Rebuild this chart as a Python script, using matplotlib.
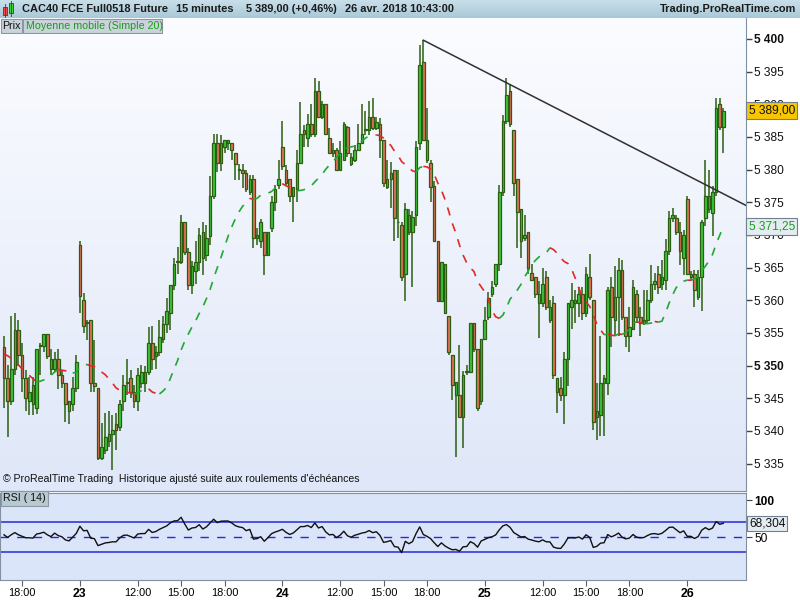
import numpy as np
import pandas as pd
import matplotlib
matplotlib.use("Agg")
import matplotlib.pyplot as plt
from matplotlib.colors import LinearSegmentedColormap
from matplotlib.patches import Rectangle
import matplotlib.transforms as mtransforms

plt.rcParams["font.family"] = ["Liberation Sans", "DejaVu Sans"]

# 15-minute candles, 20 Apr 16:45 -> 26 Apr 10:30
opens = [
    5352.9, 5348.1, 5344.5, 5349.4, 5355.5, 5351.6, 5348.1, 5344.5, 5344.1, 5343.5,
    5353.0, 5353.0, 5354.9, 5351.0, 5349.4, 5351.0, 5348.6, 5347.4, 5344.5, 5344.1,
    5346.5, 5368.5, 5360.0, 5356.5, 5357.0, 5347.4, 5346.5, 5335.9, 5337.1, 5338.5,
    5339.5, 5341.0, 5340.6, 5344.5, 5347.4, 5348.1, 5346.0, 5344.5, 5347.4, 5347.4,
    5349.0, 5353.5, 5351.5, 5352.0, 5354.0, 5356.4, 5358.0, 5362.4, 5365.9, 5365.9,
    5371.9, 5367.4, 5362.4, 5364.4, 5365.9, 5370.5, 5367.0, 5369.9, 5375.9, 5384.1,
    5381.0, 5383.4, 5384.0, 5384.0, 5382.5, 5379.9, 5379.9, 5379.4, 5376.5, 5378.5,
    5369.5, 5369.0, 5370.4, 5367.0, 5371.0, 5375.0, 5377.6, 5383.4, 5379.9, 5378.5,
    5375.9, 5377.0, 5381.0, 5386.0, 5384.9, 5386.9, 5385.4, 5392.0, 5388.0, 5390.0,
    5384.9, 5382.5, 5383.0, 5380.0, 5381.5, 5386.5, 5381.9, 5381.5, 5383.0, 5384.1,
    5386.1, 5386.1, 5388.0, 5386.4, 5386.9, 5384.5, 5377.4, 5378.5, 5379.9, 5371.9,
    5371.5, 5364.0, 5373.1, 5370.4, 5373.1, 5384.0, 5396.5, 5384.5, 5381.0, 5377.5,
    5369.0, 5359.9, 5365.5, 5357.6, 5351.6, 5345.5, 5345.5, 5342.1, 5349.0, 5349.0,
    5356.5, 5352.5, 5344.5, 5354.1, 5357.5, 5360.9, 5362.5, 5365.5, 5376.5, 5387.4,
    5392.0, 5386.0, 5378.5, 5374.0, 5369.5, 5370.4, 5364.1, 5363.5, 5360.9, 5359.6,
    5363.5, 5357.0, 5359.6, 5348.1, 5346.5, 5345.5, 5351.0, 5359.0, 5360.0, 5359.6,
    5361.0, 5358.0, 5363.5, 5360.0, 5342.1, 5342.5, 5347.4, 5347.4, 5362.0, 5357.0,
    5360.5, 5364.6, 5357.5, 5354.5, 5355.6, 5361.0, 5357.5, 5356.5, 5357.0, 5360.0,
    5362.5, 5364.0, 5362.5, 5363.1, 5367.5, 5372.6, 5372.6, 5370.4, 5366.4, 5375.5,
    5363.5, 5364.0, 5360.5, 5363.5, 5372.6, 5376.0, 5373.4, 5376.5, 5390.0, 5386.5,
]
highs = [
    5354.5, 5350.1, 5357.6, 5358.0, 5357.0, 5353.5, 5349.3, 5348.3, 5348.3, 5352.5,
    5353.5, 5354.9, 5354.9, 5352.5, 5352.0, 5352.5, 5349.3, 5347.4, 5344.5, 5348.3,
    5351.6, 5369.0, 5361.1, 5357.0, 5357.0, 5353.9, 5346.5, 5341.2, 5342.7, 5343.0,
    5342.4, 5342.7, 5344.7, 5348.6, 5351.0, 5349.3, 5347.0, 5349.6, 5350.1, 5350.0,
    5355.9, 5356.0, 5353.0, 5357.0, 5357.6, 5360.3, 5362.4, 5366.4, 5368.2, 5373.0,
    5372.0, 5368.0, 5366.0, 5369.0, 5371.0, 5372.0, 5371.5, 5379.0, 5385.4, 5385.4,
    5385.3, 5384.5, 5384.5, 5384.1, 5382.5, 5380.9, 5380.9, 5380.0, 5379.2, 5379.2,
    5371.0, 5372.5, 5370.4, 5370.4, 5375.9, 5377.6, 5381.5, 5387.5, 5380.7, 5378.5,
    5377.4, 5383.0, 5390.4, 5386.8, 5388.5, 5390.0, 5394.0, 5393.5, 5390.5, 5390.0,
    5386.3, 5384.0, 5383.3, 5384.3, 5387.3, 5386.6, 5382.5, 5383.8, 5386.9, 5390.0,
    5388.9, 5390.5, 5391.0, 5388.0, 5387.9, 5384.5, 5381.5, 5381.2, 5379.9, 5379.9,
    5372.0, 5374.9, 5374.0, 5373.6, 5384.4, 5399.1, 5399.8, 5389.4, 5381.5, 5378.2,
    5369.0, 5365.9, 5365.5, 5357.6, 5351.6, 5347.5, 5353.2, 5349.1, 5350.1, 5356.5,
    5356.5, 5352.5, 5354.1, 5358.9, 5361.3, 5362.9, 5365.5, 5377.6, 5388.3, 5394.0,
    5393.0, 5386.0, 5378.5, 5374.0, 5373.1, 5370.4, 5365.5, 5363.5, 5362.9, 5364.9,
    5364.5, 5360.0, 5360.6, 5348.1, 5348.3, 5352.0, 5359.6, 5362.6, 5361.6, 5362.1,
    5362.1, 5365.1, 5367.1, 5360.0, 5347.3, 5354.5, 5348.6, 5362.1, 5363.5, 5365.2,
    5366.4, 5366.2, 5357.5, 5359.0, 5363.1, 5361.6, 5359.0, 5361.6, 5361.6, 5365.4,
    5364.2, 5365.2, 5366.1, 5369.4, 5373.6, 5374.1, 5373.1, 5371.9, 5370.8, 5376.0,
    5364.5, 5364.7, 5364.7, 5372.3, 5381.5, 5380.0, 5377.5, 5390.9, 5390.9, 5389.4,
]
lows = [
    5343.5, 5339.0, 5344.0, 5348.5, 5350.0, 5346.0, 5343.0, 5342.4, 5342.4, 5342.6,
    5348.6, 5352.0, 5351.0, 5348.5, 5349.0, 5346.4, 5346.5, 5341.4, 5341.0, 5343.0,
    5346.0, 5358.0, 5355.0, 5353.9, 5346.0, 5346.0, 5335.5, 5335.5, 5336.5, 5337.5,
    5334.0, 5337.1, 5340.0, 5343.0, 5345.5, 5345.0, 5343.5, 5343.0, 5346.5, 5346.0,
    5348.5, 5349.3, 5349.5, 5351.5, 5353.5, 5355.0, 5355.4, 5361.5, 5364.0, 5365.5,
    5367.0, 5361.5, 5361.0, 5362.5, 5364.5, 5363.8, 5366.0, 5368.5, 5375.5, 5379.7,
    5379.8, 5382.5, 5383.0, 5381.5, 5378.4, 5378.4, 5377.2, 5376.5, 5376.1, 5368.0,
    5368.5, 5368.0, 5363.9, 5367.0, 5370.5, 5373.6, 5377.1, 5380.0, 5377.6, 5375.1,
    5372.0, 5375.1, 5381.0, 5383.4, 5383.4, 5385.0, 5385.0, 5388.0, 5387.8, 5385.3,
    5382.5, 5382.0, 5379.9, 5379.8, 5381.5, 5382.0, 5380.5, 5381.2, 5383.0, 5384.1,
    5385.3, 5385.3, 5386.0, 5386.0, 5381.7, 5377.4, 5377.0, 5374.1, 5369.0, 5369.5,
    5362.9, 5359.9, 5370.0, 5362.0, 5371.4, 5383.0, 5384.4, 5381.0, 5375.0, 5369.0,
    5359.8, 5359.8, 5358.0, 5351.6, 5344.8, 5336.0, 5342.1, 5337.4, 5348.5, 5348.9,
    5352.0, 5343.1, 5344.0, 5354.1, 5357.0, 5360.5, 5362.0, 5364.4, 5375.9, 5387.0,
    5386.5, 5375.9, 5368.0, 5366.4, 5369.0, 5364.0, 5363.0, 5360.3, 5354.2, 5359.0,
    5358.5, 5356.5, 5347.9, 5342.7, 5344.5, 5341.1, 5346.9, 5355.6, 5356.5, 5357.5,
    5356.9, 5357.5, 5360.0, 5340.2, 5338.6, 5339.2, 5339.2, 5345.5, 5352.9, 5354.5,
    5354.5, 5357.0, 5352.9, 5352.0, 5355.5, 5356.5, 5354.6, 5356.2, 5356.5, 5359.5,
    5361.6, 5361.0, 5361.6, 5361.6, 5367.0, 5372.0, 5370.0, 5365.4, 5363.9, 5363.9,
    5363.0, 5359.0, 5360.0, 5358.4, 5371.4, 5373.4, 5369.9, 5375.9, 5386.0, 5382.5,
]
closes = [
    5348.1, 5344.5, 5349.4, 5355.5, 5351.6, 5348.1, 5345.0, 5346.0, 5347.0, 5352.5,
    5353.0, 5354.9, 5351.5, 5349.4, 5351.0, 5348.6, 5347.4, 5344.1, 5343.0, 5346.5,
    5350.5, 5360.6, 5356.0, 5356.5, 5347.4, 5346.9, 5335.9, 5337.5, 5339.0, 5339.5,
    5340.2, 5340.2, 5344.1, 5347.0, 5347.4, 5346.0, 5344.5, 5348.5, 5349.0, 5349.0,
    5353.5, 5351.0, 5352.0, 5354.4, 5356.4, 5358.4, 5362.4, 5365.5, 5365.9, 5372.0,
    5367.4, 5362.4, 5365.2, 5365.9, 5370.0, 5366.4, 5369.5, 5376.0, 5384.1, 5381.0,
    5384.1, 5384.5, 5384.5, 5383.0, 5380.9, 5379.9, 5379.4, 5377.0, 5378.5, 5369.5,
    5370.0, 5371.9, 5367.0, 5370.4, 5375.0, 5377.0, 5378.5, 5380.5, 5377.9, 5375.9,
    5377.4, 5381.0, 5385.4, 5385.4, 5386.9, 5385.4, 5392.0, 5388.0, 5390.0, 5385.4,
    5382.5, 5383.0, 5379.9, 5382.5, 5386.9, 5382.5, 5380.9, 5383.0, 5384.1, 5385.4,
    5386.1, 5388.0, 5386.4, 5387.3, 5384.5, 5377.9, 5378.5, 5379.4, 5372.6, 5371.9,
    5363.5, 5374.0, 5370.4, 5372.7, 5383.5, 5396.0, 5384.5, 5381.5, 5377.4, 5369.0,
    5359.9, 5365.9, 5358.0, 5352.0, 5347.0, 5347.5, 5342.1, 5348.6, 5349.0, 5356.5,
    5352.5, 5343.5, 5354.1, 5357.0, 5360.4, 5362.0, 5365.5, 5376.5, 5387.4, 5391.4,
    5386.9, 5377.9, 5373.5, 5369.1, 5370.0, 5364.9, 5363.1, 5360.9, 5359.6, 5362.5,
    5359.0, 5358.9, 5348.6, 5346.0, 5345.5, 5351.0, 5359.6, 5360.0, 5359.6, 5361.0,
    5358.0, 5364.0, 5360.5, 5341.4, 5343.0, 5347.4, 5348.1, 5361.6, 5357.5, 5360.5,
    5364.6, 5357.5, 5354.5, 5355.9, 5362.0, 5357.5, 5356.5, 5357.0, 5360.0, 5362.5,
    5363.0, 5362.0, 5363.5, 5367.5, 5372.6, 5373.1, 5370.4, 5367.5, 5370.0, 5364.0,
    5364.0, 5361.5, 5363.5, 5371.9, 5376.0, 5373.9, 5376.5, 5389.4, 5386.5, 5389.0,
]
# SMA(20) for the first 19 bars (history before the window)
sma_lead = [5351.8, 5351.5, 5351.1, 5350.6, 5350.1, 5349.5, 5349.0, 5348.5, 5348.0, 5347.5,
            5347.6, 5347.8, 5348.1, 5348.5, 5349.0, 5349.4, 5349.3, 5349.2, 5349.0]
# RSI(14) for the first 14 bars
rsi_lead = [53, 49.5, 53, 56, 53, 51, 49, 49, 48.5, 54, 55, 56.5, 53, 50.5]

tick_pos = [5, 21, 37, 49, 61, 77, 93, 105, 117, 133, 149, 161, 173, 189]
tick_labels = ["18:00", "23", "12:00", "15:00", "18:00", "24", "12:00", "15:00",
               "18:00", "25", "12:00", "15:00", "18:00", "26"]
day_labels = {"23", "24", "25", "26"}

last_price_label = "5 389,00"
sma_label = "5 371,25"
rsi_value, rsi_label = 68.304, "68,304"

W, H = 800, 600
FS = 7.7
CANDLE_UP = "#3cc83c"
CANDLE_DOWN = "#e8705a"
CANDLE_EDGE = "#2b5e10"
SMA_UP = "#20a830"
SMA_DOWN = "#e02828"


def box(x0, y0, x1, y1):
    """pixel box (from top-left) -> figure fraction rect"""
    return [x0 / W, 1 - y1 / H, (x1 - x0) / W, (y1 - y0) / H]


def gradient(ax, top, bottom):
    cmap = LinearSegmentedColormap.from_list("bg", [bottom, top])
    ax.imshow(np.linspace(0, 1, 256).reshape(-1, 1), cmap=cmap, origin="lower",
              extent=[0, 1, 0, 1], transform=ax.transAxes, aspect="auto", zorder=0)


def thousands(v):
    return f"{v:,.0f}".replace(",", " ")


o = np.array(opens)
h = np.array(highs)
l = np.array(lows)
c = np.array(closes)
idx = np.arange(len(c))

sma = pd.Series(c).rolling(20).mean().to_numpy()
sma[:len(sma_lead)] = sma_lead

# Wilder RSI seeded on the first 14 changes
delta = np.diff(c)
gain = np.clip(delta, 0, None)
loss = np.clip(-delta, 0, None)
rsi = np.full(len(c), np.nan)
rsi[:len(rsi_lead)] = rsi_lead
ag, al = gain[:14].mean(), loss[:14].mean()
for k in range(14, len(c)):
    ag = (ag * 13 + gain[k - 1]) / 14
    al = (al * 13 + loss[k - 1]) / 14
    rsi[k] = 100 - 100 / (1 + ag / al) if al > 0 else 100

fig = plt.figure(figsize=(8, 6), dpi=100)

xlim = (-1.1, 205.25)

# ---- title bar
top = fig.add_axes(box(0, 0, 800, 18))
gradient(top, "#c8dfe9", "#a9c8d6")
top.set_xlim(0, W)
top.set_ylim(18, 0)
top.axis("off")
top.add_patch(Rectangle((3, 7), 4, 8, facecolor="#e85050", edgecolor="#404040", lw=0.6))
top.add_patch(Rectangle((9, 3), 4, 10, facecolor="#40d040", edgecolor="#404040", lw=0.6))
top.plot([5, 5], [4, 17], color="#404040", lw=0.6)
top.plot([11, 11], [1, 16], color="#404040", lw=0.6)
for x, s in [(22, "CAC40 FCE Full0518 Future"), (176, "15 minutes"),
             (246, "5 389,00 (+0,46%)"), (345, "26 avr. 2018 10:43:00")]:
    top.text(x, 9.5, s, fontsize=7.9, fontweight="bold", color="#1a1a1a", va="center")
top.text(796, 9.5, "Trading.ProRealTime.com", fontsize=7.9, fontweight="bold",
         color="#1a1a1a", va="center", ha="right")

# ---- price panel
ax = fig.add_axes(box(0, 18, 746, 491))
gradient(ax, "#fbfcff", "#dfe7f8")
ax.set_xlim(*xlim)
ax.set_ylim(5330.8, 5403.2)

ax.vlines(idx, l, h, color=CANDLE_EDGE, lw=1.1, zorder=2)
body_h = np.maximum(np.abs(c - o), 0.12)
ax.bar(idx, body_h, bottom=np.minimum(o, c), width=0.72,
       color=np.where(c >= o, CANDLE_UP, CANDLE_DOWN),
       edgecolor=CANDLE_EDGE, linewidth=0.9, zorder=3)

# SMA 20, coloured by direction, dashed
rising = np.diff(sma) >= 0
start = 0
for k in range(1, len(rising) + 1):
    if k == len(rising) or rising[k] != rising[start]:
        seg = slice(start, k + 1)
        ax.plot(idx[seg], sma[seg], color=SMA_UP if rising[start] else SMA_DOWN,
                lw=1.2, linestyle=(0, (5, 5)), zorder=4)
        start = k

# trend line through the two swing highs
i1, i2 = 116, 140
slope = (h[i2] - h[i1]) / (i2 - i1)
ax.plot([i1, xlim[1]], [h[i1], h[i1] + slope * (xlim[1] - i1)], color="#303030", lw=1.1, zorder=5)

for s in ["top", "left"]:
    ax.spines[s].set_visible(False)
ax.spines["right"].set_color("#8090a0")
ax.spines["bottom"].set_color("#8090a0")
ax.set_xticks([])
ax.yaxis.tick_right()
yt = np.arange(5335, 5401, 5)
ax.set_yticks(yt)
ax.set_yticklabels([thousands(v) for v in yt])
ax.tick_params(axis="y", direction="out", length=4, width=1, color="#404040",
               labelsize=8.6, pad=2, labelcolor="#101010")
for v, t in zip(yt, ax.get_yticklabels()):
    if v % 50 == 0:
        t.set_fontweight("bold")

tr = mtransforms.blended_transform_factory(ax.transAxes, ax.transData)
ax.text(1.0035, c[-1], last_price_label, transform=tr, fontsize=8.6, va="center", ha="left",
        color="#101010", zorder=10, clip_on=False,
        bbox=dict(boxstyle="square,pad=0.2", facecolor="#f7c600", edgecolor="#708090", lw=0.8))
ax.text(1.0035, sma[-1], sma_label, transform=tr, fontsize=8.6, va="center", ha="left",
        color="#18a018", zorder=10, clip_on=False,
        bbox=dict(boxstyle="square,pad=0.2", facecolor="#e4ecf2", edgecolor="#708090", lw=0.8))

ax.text(0.004, 0.014, "© ProRealTime Trading  Historique ajusté suite aux roulements d'échéances",
        transform=ax.transAxes, fontsize=7.6, color="#101010", va="bottom", ha="left", zorder=6)

# indicator labels
lab = fig.add_axes(box(0, 18, 800, 34), facecolor="none")
lab.set_xlim(0, W)
lab.set_ylim(16, 0)
lab.axis("off")
lab.add_patch(Rectangle((0.5, 1), 21.5, 14, facecolor="#c9d3da", edgecolor="#8a98a4", lw=0.8))
lab.add_patch(Rectangle((23, 1), 139, 14, facecolor="#c9d3da", edgecolor="#8a98a4", lw=0.8))
lab.text(2.5, 8, "Prix", fontsize=FS, va="center", color="#101010")
lab.text(25.5, 8, "Moyenne mobile (Simple 20)", fontsize=FS, va="center", color="#1c9a1c")

# ---- RSI panel
rx = fig.add_axes(box(0, 493, 746, 580))
rx.set_facecolor("#dbe5fa")
rx.set_xlim(*xlim)
rx.set_ylim(-8.1, 109.5)
rx.axhline(70, color="#2828d8", lw=1.1)
rx.axhline(30, color="#2828d8", lw=1.1)
rx.axhline(50, color="#2828d8", lw=1.0, linestyle=(0, (6, 6)))
rx.plot(idx, rsi, color="#101010", lw=1.0, zorder=4)
for s in rx.spines.values():
    s.set_color("#8090a0")
rx.yaxis.tick_right()
rx.set_yticks([50, 100])
rx.set_yticklabels(["50", "100"])
rx.tick_params(axis="y", direction="out", length=4, color="#404040", labelsize=8.6, pad=2)
rx.get_yticklabels()[1].set_fontweight("bold")
rx.set_xticks(tick_pos)
rx.set_xticklabels(tick_labels)
rx.tick_params(axis="x", direction="out", length=4, color="#606060", labelsize=7.9, pad=1.5)
for t in rx.get_xticklabels():
    if t.get_text() in day_labels:
        t.set_fontweight("bold")
        t.set_fontsize(8.8)
rtr = mtransforms.blended_transform_factory(rx.transAxes, rx.transData)
rx.text(1.004, rsi_value, rsi_label, transform=rtr, fontsize=8.6, va="center", ha="left",
        color="#101010", clip_on=False,
        bbox=dict(boxstyle="square,pad=0.15", facecolor="#e4ecf2", edgecolor="#708090", lw=0.8))
rx.text(0.004, 0.995, "RSI ( 14)", transform=rx.transAxes, fontsize=FS, va="top", ha="left",
        color="#101010",
        bbox=dict(boxstyle="square,pad=0.2", facecolor="#b9c9d2", edgecolor="#8a98a4", lw=0.8))

fig.savefig("out.png", dpi=100)
plt.close(fig)
